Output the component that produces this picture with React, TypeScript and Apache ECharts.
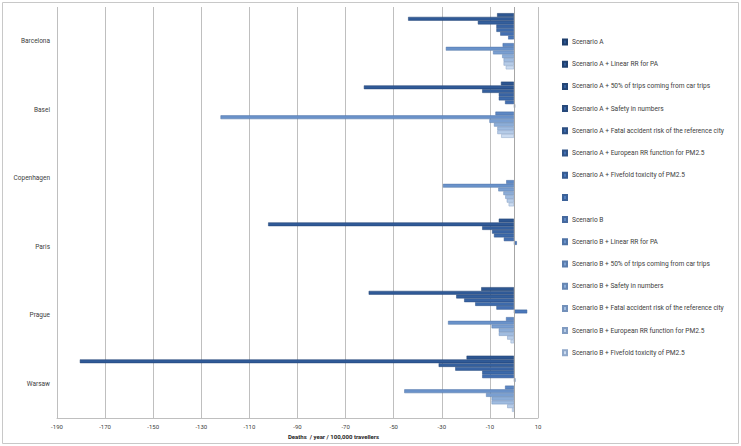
import { useEffect, useRef } from 'react';
import * as echarts from 'echarts';

const cities = ['Barcelona', 'Basel', 'Copenhagen', 'Paris', 'Prague', 'Warsaw'];

const xTickLabels = ['-190', '-170', '-150', '-130', '-110', '-90', '-70', '-50', '-30', '-10', '10'];

const seriesNames = [
  'Scenario A',
  'Scenario A + Linear RR for PA',
  'Scenario A + 50% of trips coming from car trips',
  'Scenario A + Safety in numbers',
  'Scenario A + Fatal accident risk of the reference city',
  'Scenario A + European RR function for PM2.5',
  'Scenario A + Fivefold toxicity of PM2.5',
  ' ',
  'Scenario B',
  'Scenario B + Linear RR for PA',
  'Scenario B + 50% of trips coming from car trips',
  'Scenario B + Safety in numbers',
  'Scenario B + Fatal accident risk of the reference city',
  'Scenario B + European RR function for PM2.5',
  'Scenario B + Fivefold toxicity of PM2.5',
];

const scenarioA = [-7, -5.4, null, -6.3, -13.6, -19.7];
const scenarioALinear = [-44, -62.4, null, -102.2, -60.4, -180.5];
const scenarioACar = [-15, -13.2, null, -13.2, -24, -31.3];
const scenarioASafety = [-7.3, -6.3, null, -9.1, -20.7, -24.4];
const scenarioAFatal = [-7.3, -6.3, null, -8.3, -16.1, -13.2];
const scenarioAEuropean = [-5.7, -3.7, null, -4.2, -7.3, -13.2];
const scenarioAFivefold = [-2.4, 0.5, null, 1.2, 5.5, 0.6];
const blankSeries = [null, null, null, null, null, null];
const scenarioB = [-4.7, -7.7, -3.2, null, -3.3, -3.7];
const scenarioBLinear = [-28.3, -122, -29.5, null, -27.4, -45.6];
const scenarioBCar = [-8.7, -10.2, -6.5, null, -9.3, -11.6];
const scenarioBSafety = [-4.9, -8.3, -4.4, null, -6.3, -9.3];
const scenarioBFatal = [-4.3, -6.9, -3.6, null, -6.3, -9.3];
const scenarioBEuropean = [-4.3, -6.9, -3, null, -2.8, -2.8];
const scenarioBFivefold = [-3.4, -5.3, -2.2, null, -1.4, -0.8];

const seriesValues = [
  scenarioA, scenarioALinear, scenarioACar, scenarioASafety, scenarioAFatal, scenarioAEuropean, scenarioAFivefold,
  blankSeries,
  scenarioB, scenarioBLinear, scenarioBCar, scenarioBSafety, scenarioBFatal, scenarioBEuropean, scenarioBFivefold,
];

const fills = [
  '#2D5691', '#305A97', '#345F9D', '#3864A4', '#3D6AAB', '#436FB2', '#4A78BB',
  '#5280C0',
  '#5D88C4', '#6A92CA', '#7A9FD1', '#8CADD8', '#A0BCE0', '#B6CCE8', '#CBDBF0',
];
const borders = [
  '#1F3E6C', '#214170', '#244575', '#27497B', '#2B4E81', '#305488', '#365B91',
  '#3C6299',
  '#46699E', '#4E72A5', '#5A7CAC', '#6686B3', '#7290BA', '#809BC1', '#8EA7C9',
];

const FONT = 'Roboto, "Liberation Sans", sans-serif';

const X_MIN = -190;
const X_MAX = 10;
const W = 741;
const H = 446;

export default function App() {
  const ref = useRef<HTMLDivElement>(null);

  useEffect(() => {
    document.body.style.margin = '0';
    if (!ref.current) return;
    const chart = echarts.init(ref.current, null, { renderer: 'svg' });

    const series: any[] = seriesNames.map((name, i) => ({
      name,
      type: 'bar',
      yAxisIndex: 0,
      data: seriesValues[i],
      barGap: '0%',
      barCategoryGap: '18%',
      itemStyle: { color: fills[i], borderColor: borders[i], borderWidth: 0.5 },
      emphasis: { disabled: true },
    }));
    series[7].markLine = {
      silent: true,
      symbol: 'none',
      label: { show: false },
      lineStyle: { color: '#A6A6A6', type: 'solid', width: 1 },
      data: [{ xAxis: 0 }],
    };

    chart.setOption({
      animation: false,
      textStyle: { fontFamily: FONT },
      graphic: [
        {
          type: 'rect',
          shape: { x: 2.5, y: 2.5, width: 736, height: 441 },
          style: { fill: 'none', stroke: '#C8C8C8', lineWidth: 1 },
          silent: true,
        },
      ],
      grid: { left: 57, right: 203, top: 7, bottom: 28, containLabel: false },
      legend: {
        orient: 'vertical',
        left: 562,
        top: 38.5,
        padding: 0,
        itemWidth: 4,
        itemHeight: 5,
        itemGap: 15.2,
        icon: 'rect',
        data: seriesNames,
        selectedMode: false,
        textStyle: { fontSize: 6.6, color: '#404040', fontFamily: FONT },
      },
      xAxis: {
        type: 'value',
        min: X_MIN,
        max: X_MAX,
        interval: 10,
        axisLine: { show: true, onZero: false, lineStyle: { color: '#BFBFBF' } },
        axisTick: { show: false },
        axisLabel: {
          fontSize: 6,
          color: '#404040',
          margin: 5,
          formatter: (v: number) => {
            const s = String(Math.round(v));
            return xTickLabels.includes(s) ? s : '';
          },
        },
        splitLine: { show: true, lineStyle: { color: ['#BFBFBF', 'rgba(0,0,0,0)'], width: 1 } },
        name: 'Deaths  / year / 100,000 travellers',
        nameLocation: 'middle',
        nameGap: 15,
        nameTextStyle: { fontSize: 6, fontWeight: 'bold', color: '#262626', padding: [0, 0, 0, 72] },
      },
      yAxis: {
        type: 'category',
        data: cities,
        inverse: true,
        axisLine: { show: false, onZero: false },
        axisTick: { show: false },
        axisLabel: { fontSize: 6.5, color: '#404040', margin: 7 },
        splitLine: { show: false },
      },
      series,
    });

    return () => chart.dispose();
  }, []);

  return <div ref={ref} style={{ width: W, height: H }} />;
}
